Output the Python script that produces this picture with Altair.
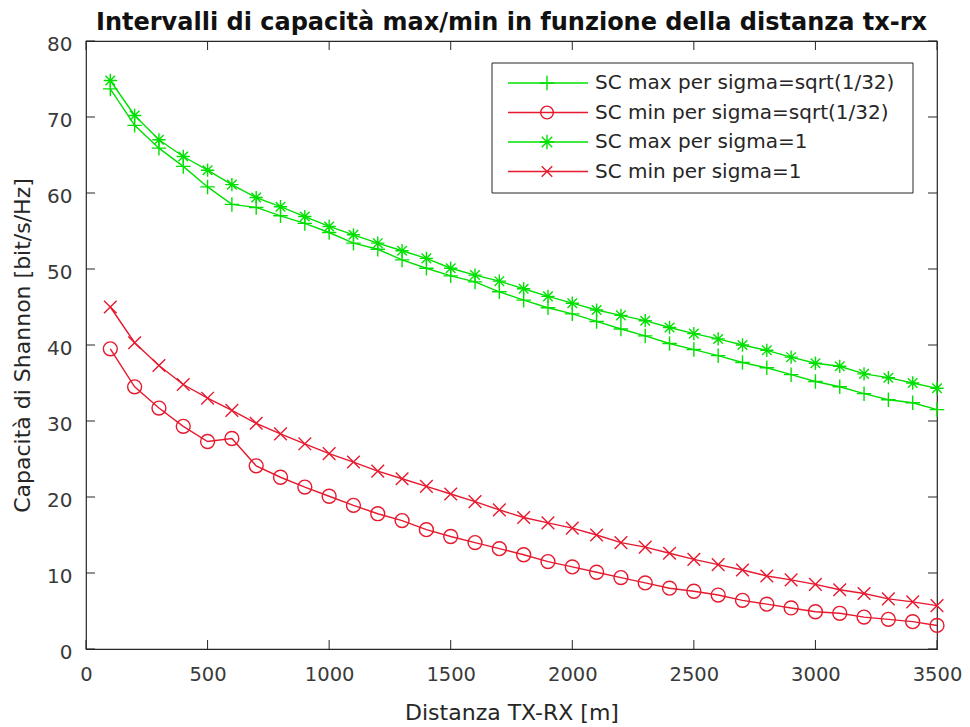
import altair as alt
import pandas as pd

# ---------------- data ----------------
distance = [100, 200, 300, 400, 500, 600, 700, 800, 900, 1000,
            1100, 1200, 1300, 1400, 1500, 1600, 1700, 1800, 1900, 2000,
            2100, 2200, 2300, 2400, 2500, 2600, 2700, 2800, 2900, 3000,
            3100, 3200, 3300, 3400, 3500]

sc_max_s32 = [73.7, 68.9, 65.9, 63.5, 60.8, 58.5, 58.1, 57.0, 56.0, 54.8,
              53.4, 52.6, 51.2, 50.1, 49.1, 48.3, 47.0, 45.9, 44.9, 44.1,
              43.1, 42.1, 41.2, 40.2, 39.4, 38.6, 37.7, 37.0, 36.1, 35.2,
              34.5, 33.6, 32.8, 32.4, 31.5]

sc_min_s32 = [39.5, 34.5, 31.7, 29.3, 27.3, 27.7, 24.1, 22.6, 21.3, 20.1,
              18.9, 17.8, 16.9, 15.7, 14.8, 14.0, 13.2, 12.4, 11.5, 10.8,
              10.1, 9.4, 8.7, 8.0, 7.6, 7.1, 6.4, 5.9, 5.4, 4.9,
              4.7, 4.2, 3.9, 3.6, 3.1]

sc_max_s1 = [74.8, 70.2, 67.0, 64.8, 63.0, 61.1, 59.4, 58.2, 56.9, 55.6,
             54.5, 53.4, 52.4, 51.4, 50.1, 49.2, 48.4, 47.4, 46.4, 45.5,
             44.6, 43.9, 43.2, 42.3, 41.5, 40.8, 40.0, 39.3, 38.4, 37.6,
             37.2, 36.2, 35.7, 35.0, 34.3]

sc_min_s1 = [45.0, 40.3, 37.3, 34.8, 33.0, 31.4, 29.7, 28.3, 27.0, 25.7,
             24.6, 23.4, 22.4, 21.4, 20.4, 19.4, 18.3, 17.3, 16.6, 15.9,
             15.0, 14.0, 13.4, 12.6, 11.8, 11.1, 10.4, 9.6, 9.1, 8.5,
             7.8, 7.3, 6.6, 6.2, 5.7]

series_names = ["SC max per sigma=sqrt(1/32)",
                "SC min per sigma=sqrt(1/32)",
                "SC max per sigma=1",
                "SC min per sigma=1"]
series_values = [sc_max_s32, sc_min_s32, sc_max_s1, sc_min_s1]

x_ticks = [0, 500, 1000, 1500, 2000, 2500, 3000, 3500]
y_ticks = [0, 10, 20, 30, 40, 50, 60, 70, 80]

title_text = "Intervalli di capacità max/min in funzione della distanza tx-rx"
x_title = "Distanza TX-RX [m]"
y_title = "Capacità di Shannon [bit/s/Hz]"

# ---------------- styles ----------------
GREEN = "#00e000"
RED = "#e6192e"
AXIS = "#262626"
LABEL = "#3a3a3a"
FONT = "DejaVu Sans"

PLUS = "M-1,0L1,0M0,-1L0,1"
STAR = "M-1,0L1,0M0,-1L0,1M-0.72,-0.72L0.72,0.72M-0.72,0.72L0.72,-0.72"
XMARK = "M-1,-1L1,1M-1,1L1,-1"

series_colors = [GREEN, RED, GREEN, RED]
series_shapes = [PLUS, "circle", STAR, XMARK]
series_sizes = [210, 160, 210, 110]

W, H = 851, 608
TICK = 9

rows = []
for name, vals in zip(series_names, series_values):
    for d, v in zip(distance, vals):
        rows.append({"distance": d, "value": v, "series": name})
df = pd.DataFrame(rows)

xs = alt.Scale(domain=[0, 3500], nice=False, zero=False)
ys = alt.Scale(domain=[0, 80], nice=False, zero=False)

color = alt.Color("series:N", scale=alt.Scale(domain=series_names, range=series_colors), legend=None)

x_axis = alt.Axis(values=x_ticks, format="d", ticks=False, domain=False, grid=False,
                  labelFlush=False,
                  labelFont=FONT, labelFontSize=19.5, labelColor=LABEL, labelPadding=16,
                  title=x_title, titleFont=FONT, titleFontSize=22, titleFontWeight="normal",
                  titleColor=AXIS, titleY=63, titleBaseline="middle")
y_axis = alt.Axis(values=y_ticks, format="d", ticks=False, domain=False, grid=False,
                  labelFlush=False,
                  labelFont=FONT, labelFontSize=20, labelColor=LABEL, labelPadding=14,
                  labelOffset=3,
                  title=y_title, titleFont=FONT, titleFontSize=22, titleFontWeight="normal",
                  titleColor=AXIS, titleX=-64, titleY=H / 2, titleAngle=270,
                  titleBaseline="middle", titleAlign="center")

X = alt.X("distance:Q", scale=xs, axis=x_axis, title=x_title)
Y = alt.Y("value:Q", scale=ys, axis=y_axis, title=y_title)

lines = alt.Chart(df).mark_line(strokeWidth=1.4).encode(
    x=X, y=Y, color=color, detail="series:N", order="distance:Q",
)

points = alt.Chart(df).mark_point(filled=False, strokeWidth=1.4, opacity=1).encode(
    x=X, y=Y, color=color,
    shape=alt.Shape("series:N", scale=alt.Scale(domain=series_names, range=series_shapes), legend=None),
    size=alt.Size("series:N", scale=alt.Scale(domain=series_names, range=series_sizes), legend=None),
)

# inward ticks on all four sides (MATLAB box style)
xt = pd.DataFrame({"distance": x_ticks})
yt = pd.DataFrame({"value": y_ticks})
tick_layers = [
    alt.Chart(xt).mark_rule(color=AXIS, strokeWidth=1).encode(
        x=X, y=alt.value(H), y2=alt.value(H - TICK)),
    alt.Chart(xt).mark_rule(color=AXIS, strokeWidth=1).encode(
        x=X, y=alt.value(0), y2=alt.value(TICK)),
    alt.Chart(yt).mark_rule(color=AXIS, strokeWidth=1).encode(
        y=Y, x=alt.value(0), x2=alt.value(TICK)),
    alt.Chart(yt).mark_rule(color=AXIS, strokeWidth=1).encode(
        y=Y, x=alt.value(W), x2=alt.value(W - TICK)),
]

# legend box (MATLAB style, inside top-right)
LX0, LX1, LY0, LY1 = 406, 827, 22, 152
entry_y = [42, 71.5, 101, 130.5]
legend_layers = [
    alt.Chart(pd.DataFrame({"k": [0]})).mark_rect(fill="white", stroke=AXIS, strokeWidth=1).encode(
        x=alt.value(LX0), x2=alt.value(LX1), y=alt.value(LY0), y2=alt.value(LY1))
]
for name, c, shp, sz, yy in zip(series_names, series_colors, series_shapes, series_sizes, entry_y):
    ldf = pd.DataFrame({"label": [name]})
    legend_layers.append(alt.Chart(ldf).mark_rule(color=c, strokeWidth=1.4).encode(
        x=alt.value(422), x2=alt.value(502), y=alt.value(yy)))
    legend_layers.append(alt.Chart(ldf).mark_point(shape=shp, size=sz, color=c, filled=False,
                                                   opacity=1, strokeWidth=1.4).encode(
        x=alt.value(461), y=alt.value(yy)))
    legend_layers.append(alt.Chart(ldf).mark_text(align="left", baseline="middle", font=FONT,
                                                  fontSize=20, color=AXIS).encode(
        x=alt.value(509), y=alt.value(yy), text="label:N"))

chart = alt.layer(lines, points, *tick_layers, *legend_layers).properties(
    width=W, height=H,
    title=alt.TitleParams(text=title_text, font=FONT, fontSize=24, fontWeight="bold",
                          color="#111111", anchor="middle", frame="group",
                          baseline="alphabetic", offset=2, dy=22),
    autosize=alt.AutoSizeParams(type="none"),
    padding={"left": 78, "top": 33, "right": 25, "bottom": 80},
).configure(background="white").configure_view(stroke=AXIS, strokeWidth=1.2)

chart.save("out.html", embed_options={"renderer": "svg", "actions": False})
